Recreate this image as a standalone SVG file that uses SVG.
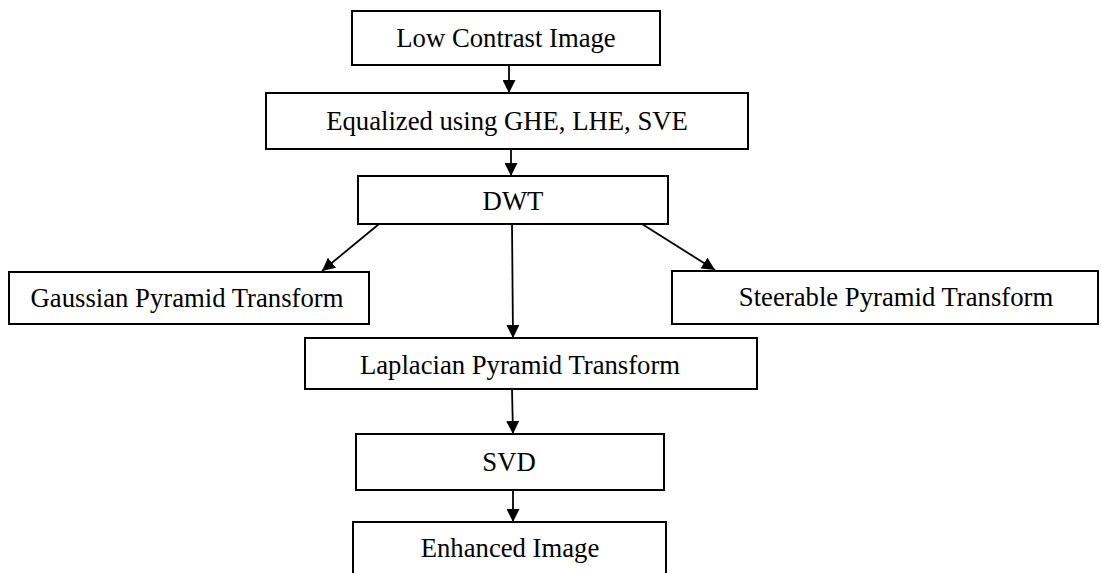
<svg xmlns="http://www.w3.org/2000/svg" width="1102" height="573" viewBox="0 0 1102 573">
  <style>
    .box { fill: #fff; stroke: #000; stroke-width: 2; }
    .lbl { font-family: "Liberation Serif", "Times New Roman", serif; font-size: 26.7px; fill: #000; text-anchor: middle; }
    .conn { stroke: #000; stroke-width: 1.8; fill: none; marker-end: url(#arr); }
  </style>
  <defs>
    <marker id="arr" markerUnits="userSpaceOnUse" markerWidth="14" markerHeight="13" refX="13" refY="6.5" orient="auto">
      <path d="M0,0 L13,6.5 L0,13 z" fill="#000"/>
    </marker>
  </defs>
  <rect width="1102" height="573" fill="#fff"/>

  <g id="connectors">
    <line class="conn" x1="509" y1="65" x2="509" y2="93"/>
    <line class="conn" x1="511" y1="149" x2="511" y2="176"/>
    <line class="conn" x1="379" y1="224" x2="322" y2="271"/>
    <line class="conn" x1="642" y1="224" x2="715" y2="270"/>
    <line class="conn" x1="512" y1="224" x2="513" y2="338"/>
    <line class="conn" x1="512" y1="389" x2="513" y2="434"/>
    <line class="conn" x1="513" y1="490" x2="513" y2="522"/>
  </g>

  <g id="n1">
    <rect class="box" x="352" y="11" width="308" height="54"/>
    <text class="lbl" x="506" y="47">Low Contrast Image</text>
  </g>
  <g id="n2">
    <rect class="box" x="266" y="93" width="482" height="56"/>
    <text class="lbl" x="507" y="130">Equalized using GHE, LHE, SVE</text>
  </g>
  <g id="n3">
    <rect class="box" x="358" y="176" width="310" height="48"/>
    <text class="lbl" x="513" y="210">DWT</text>
  </g>
  <g id="n4">
    <rect class="box" x="9" y="272" width="360" height="52"/>
    <text class="lbl" x="187" y="307">Gaussian Pyramid Transform</text>
  </g>
  <g id="n5">
    <rect class="box" x="672" y="271" width="426" height="53"/>
    <text class="lbl" x="896" y="306">Steerable Pyramid Transform</text>
  </g>
  <g id="n6">
    <rect class="box" x="305" y="338" width="452" height="51"/>
    <text class="lbl" x="520" y="374">Laplacian Pyramid Transform</text>
  </g>
  <g id="n7">
    <rect class="box" x="356" y="434" width="308" height="56"/>
    <text class="lbl" x="509" y="471">SVD</text>
  </g>
  <g id="n8">
    <rect class="box" x="353" y="522" width="313" height="60"/>
    <text class="lbl" x="510" y="557">Enhanced Image</text>
  </g>
</svg>
